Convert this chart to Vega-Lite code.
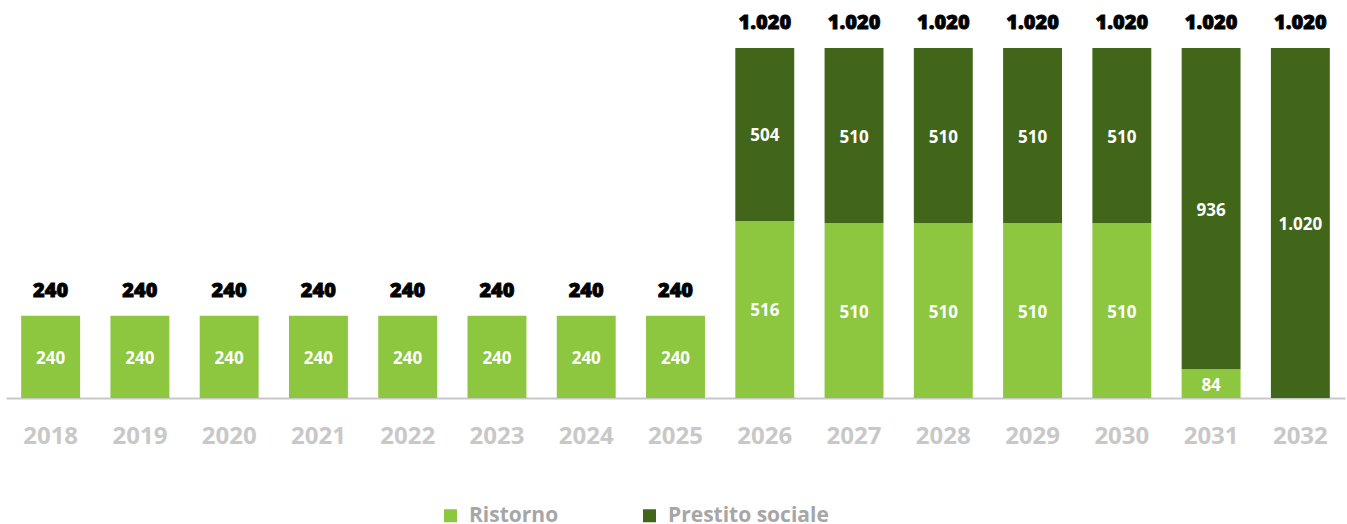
{
  "$schema": "https://vega.github.io/schema/vega-lite/v6.json",
  "autosize": {"type": "none"},
  "width": 1339,
  "height": 350,
  "padding": {"left": 6, "top": 48, "right": 2, "bottom": 126},
  "background": "white",
  "config": {
    "view": {"stroke": null},
    "font": "Open Sans",
    "locale": {"number": {"decimal": ",", "thousands": ".", "grouping": [3], "currency": ["€", ""]}}
  },
  "data": {
    "values": [
      {"year": "2018", "series": "Ristorno", "value": 240},
      {"year": "2019", "series": "Ristorno", "value": 240},
      {"year": "2020", "series": "Ristorno", "value": 240},
      {"year": "2021", "series": "Ristorno", "value": 240},
      {"year": "2022", "series": "Ristorno", "value": 240},
      {"year": "2023", "series": "Ristorno", "value": 240},
      {"year": "2024", "series": "Ristorno", "value": 240},
      {"year": "2025", "series": "Ristorno", "value": 240},
      {"year": "2026", "series": "Ristorno", "value": 516},
      {"year": "2026", "series": "Prestito sociale", "value": 504},
      {"year": "2027", "series": "Ristorno", "value": 510},
      {"year": "2027", "series": "Prestito sociale", "value": 510},
      {"year": "2028", "series": "Ristorno", "value": 510},
      {"year": "2028", "series": "Prestito sociale", "value": 510},
      {"year": "2029", "series": "Ristorno", "value": 510},
      {"year": "2029", "series": "Prestito sociale", "value": 510},
      {"year": "2030", "series": "Ristorno", "value": 510},
      {"year": "2030", "series": "Prestito sociale", "value": 510},
      {"year": "2031", "series": "Ristorno", "value": 84},
      {"year": "2031", "series": "Prestito sociale", "value": 936},
      {"year": "2032", "series": "Prestito sociale", "value": 1020}
    ]
  },
  "encoding": {
    "x": {
      "field": "year",
      "type": "ordinal",
      "scale": {"paddingInner": 0.34, "paddingOuter": 0.17},
      "axis": {
        "title": null,
        "labelAngle": 0,
        "labelFont": "Open Sans",
        "labelFontWeight": "bold",
        "labelFontSize": 24,
        "labelColor": "#c8c8c8",
        "labelPadding": 38,
        "labelBaseline": "middle",
        "ticks": false,
        "domainColor": "#c8c8c8",
        "domainWidth": 2,
        "grid": false
      }
    }
  },
  "layer": [
    {
      "mark": {"type": "bar"},
      "encoding": {
        "y": {"field": "value", "type": "quantitative", "stack": "zero", "scale": {"domain": [0, 1020], "nice": false, "zero": true}, "axis": null},
        "color": {
          "field": "series",
          "type": "nominal",
          "scale": {"domain": ["Ristorno", "Prestito sociale"], "range": ["#8dc63f", "#41661a"]},
          "legend": {
            "title": null,
            "orient": "none",
            "direction": "horizontal",
            "legendX": 434,
            "legendY": 457,
            "symbolType": "square",
            "symbolSize": 169,
            "symbolStrokeWidth": 0,
            "symbolOffset": 0,
            "labelFont": "Open Sans",
            "labelFontWeight": "bold",
            "labelFontSize": 21,
            "labelColor": "#a6a6a6",
            "labelOffset": 8,
            "columnPadding": 80,
            "labelLimit": 300
          }
        },
        "order": {"field": "series", "sort": "descending"}
      }
    },
    {
      "mark": {"type": "text", "color": "white", "font": "Open Sans", "fontWeight": "bold", "fontSize": 17, "baseline": "middle", "dy": 2},
      "encoding": {
        "y": {"field": "value", "type": "quantitative", "stack": "zero", "bandPosition": 0.5},
        "text": {"field": "value", "type": "quantitative", "format": ",d"},
        "order": {"field": "series", "sort": "descending"}
      }
    },
    {
      "mark": {"type": "text", "color": "black", "font": "Open Sans", "fontWeight": 900, "fontSize": 20, "baseline": "middle", "dy": -25, "stroke": "black", "strokeWidth": 0.8},
      "encoding": {
        "y": {"aggregate": "sum", "field": "value", "type": "quantitative"},
        "text": {"aggregate": "sum", "field": "value", "type": "quantitative", "format": ",d"}
      }
    }
  ]
}
